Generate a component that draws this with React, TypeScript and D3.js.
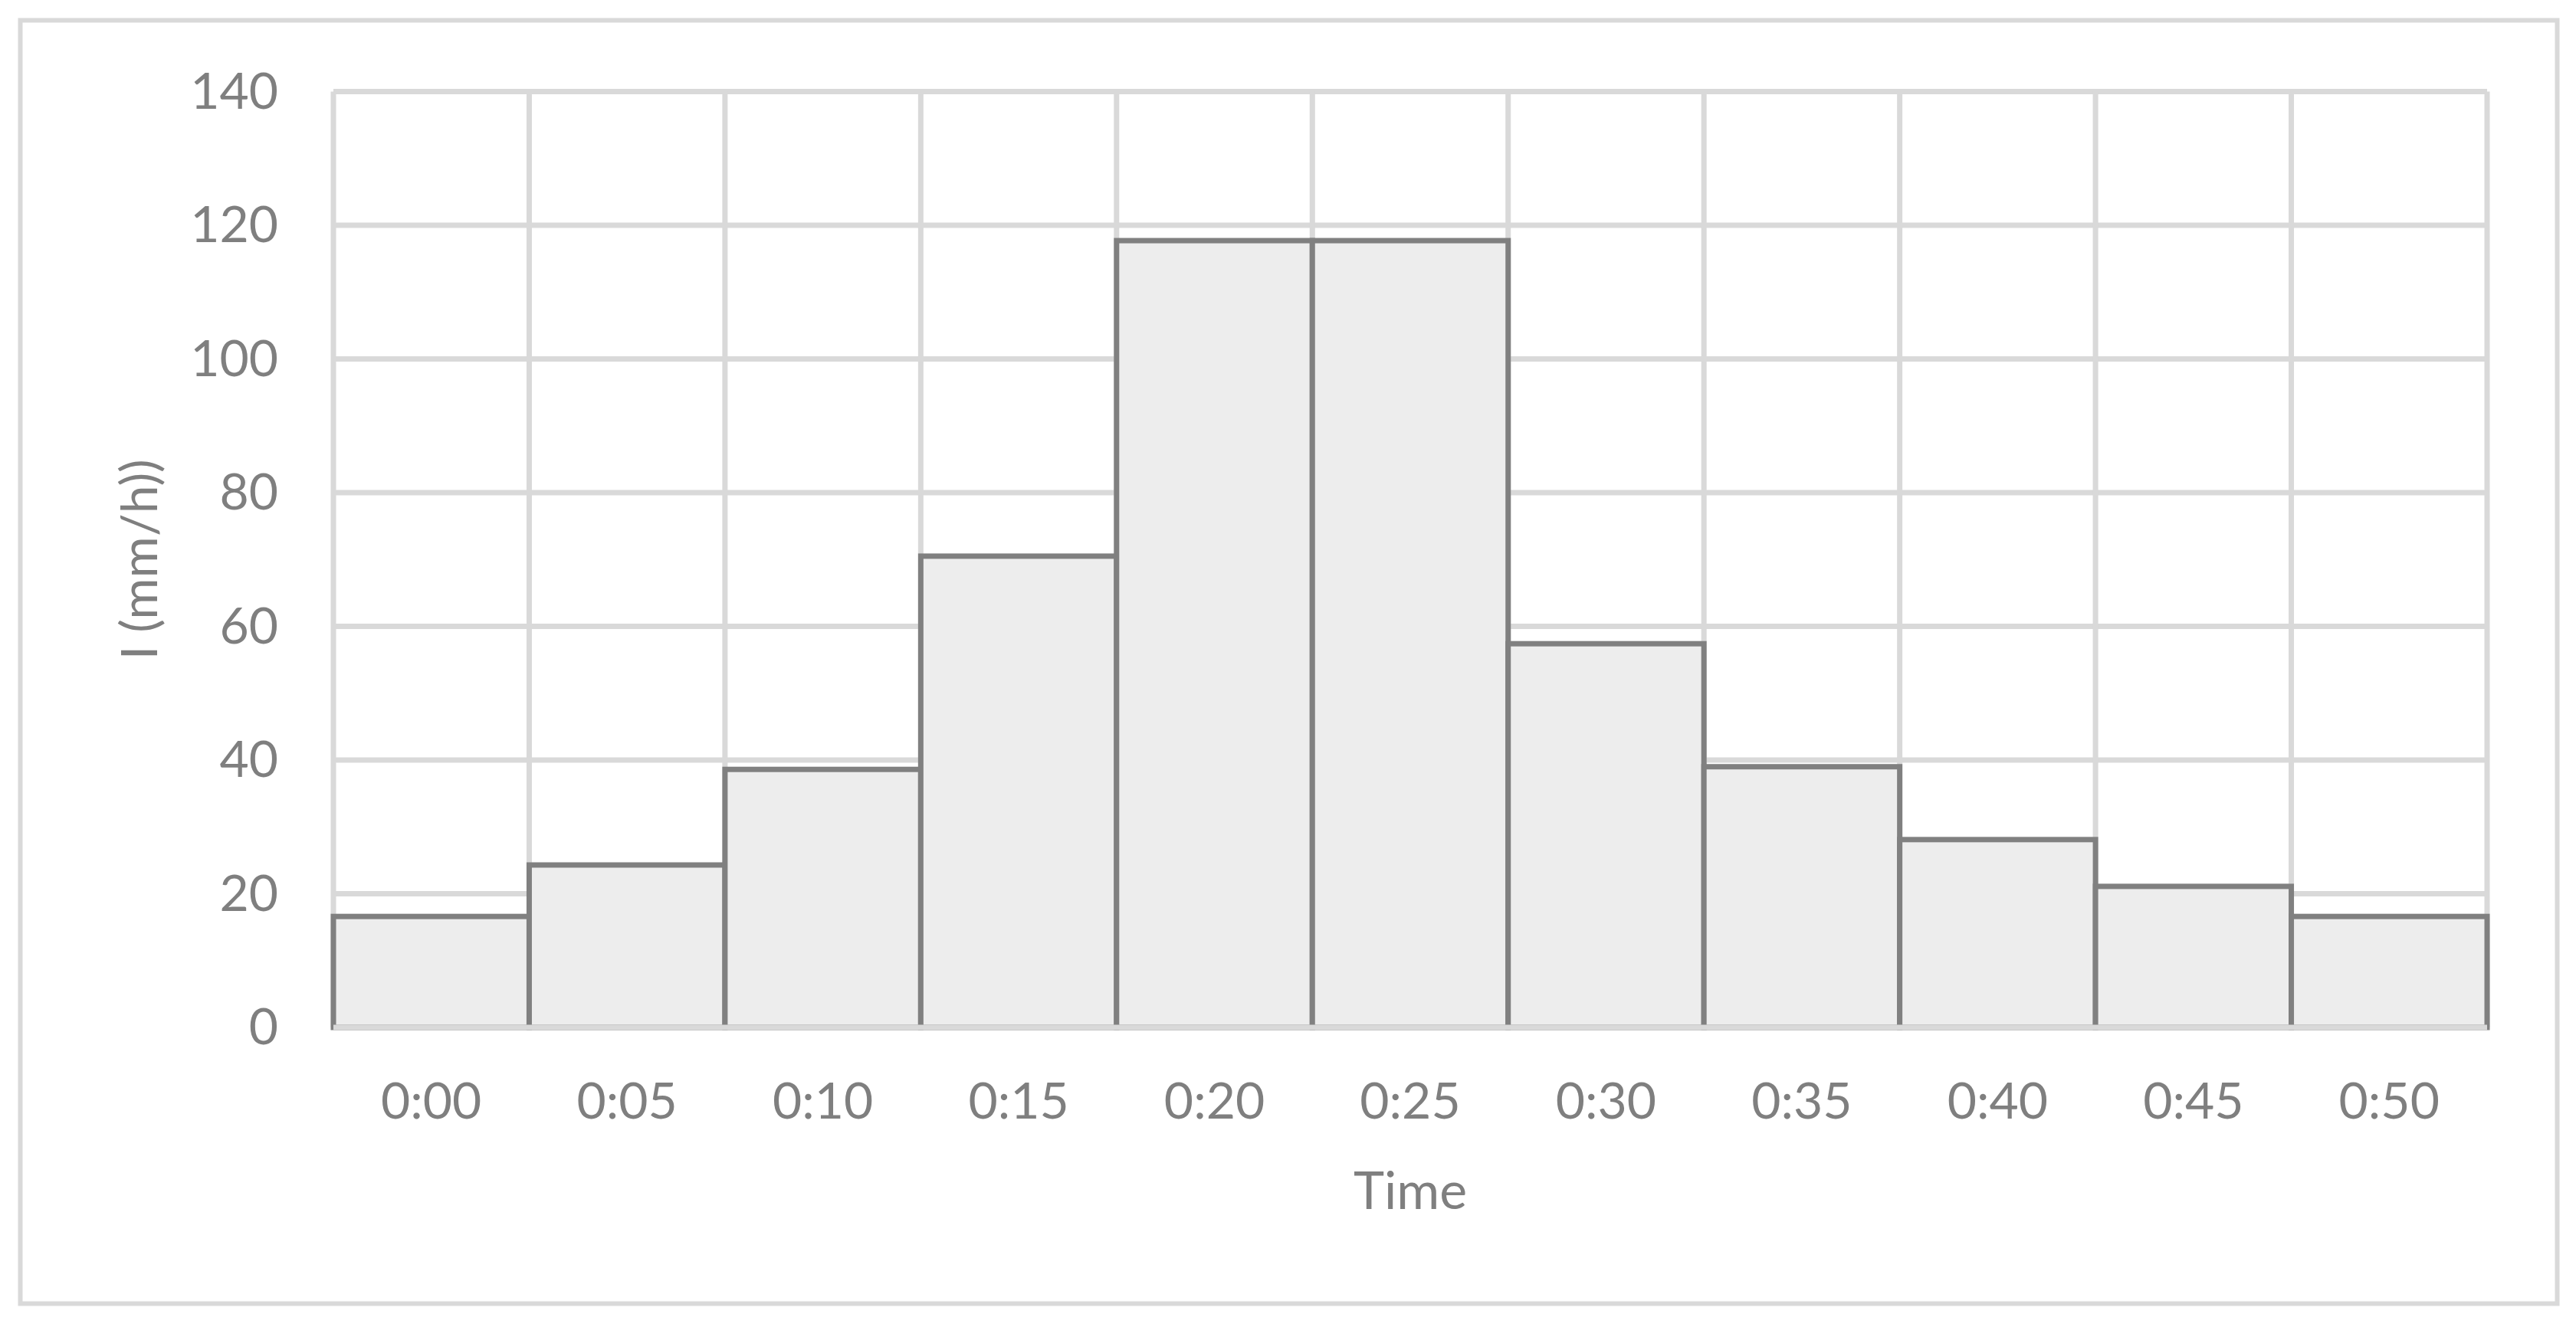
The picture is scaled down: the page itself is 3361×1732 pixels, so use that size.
import React from 'react';
import * as d3 from 'd3';

// time slots (5 min blocks) and rainfall intensity in mm/h
const slots = ['0:00', '0:05', '0:10', '0:15', '0:20', '0:25', '0:30', '0:35', '0:40', '0:45', '0:50'];
const intensity = [16.6, 24.3, 38.6, 70.5, 117.7, 117.7, 57.4, 39.0, 28.1, 21.1, 16.6];
const yTicks = [0, 20, 40, 60, 80, 100, 120, 140];

const W = 3361;
const H = 1732;
const FONT = 'Lato, "Open Sans", sans-serif';
const TXT = '#7f7f7f';
const GRID = '#d9d9d9';

const App = () => {
  const x = d3.scaleBand<string>().domain(slots).range([435, 3245]).padding(0);
  const y = d3.scaleLinear().domain([0, 140]).range([1341, 119.5]);
  const bw = x.bandwidth();
  const [x0, x1] = x.range();

  const data = slots.map((s, i) => ({ slot: s, v: intensity[i] }));
  // category boundaries for the vertical grid
  const bounds = slots.map(s => x(s)!).concat([x1]);

  return (
    <svg width={W} height={H} style={{ position: 'absolute', left: 0, top: 0, background: '#fff' }}>
      <rect x={26.5} y={26.5} width={3310} height={1675} fill="#fff" stroke={GRID} strokeWidth={6} />

      {/* gridlines */}
      {yTicks.map(t => (
        <line key={'h' + t} x1={x0} x2={x1} y1={y(t)} y2={y(t)} stroke={GRID} strokeWidth={7} />
      ))}
      {bounds.map((b, i) => (
        <line key={'v' + i} x1={b} x2={b} y1={y(140)} y2={y(0)} stroke={GRID} strokeWidth={7} />
      ))}

      {/* bars */}
      {data.map(d => (
        <rect
          key={d.slot}
          x={x(d.slot)}
          y={y(d.v)}
          width={bw}
          height={y(0) - y(d.v)}
          fill="#ededed"
          stroke="#808080"
          strokeWidth={7}
        />
      ))}

      {/* category axis line */}
      <line x1={x0} x2={x1} y1={y(0)} y2={y(0)} stroke={GRID} strokeWidth={7} />

      {/* tick labels */}
      {yTicks.map(t => (
        <text key={'yl' + t} x={363} y={y(t)} dy={22} textAnchor="end"
          fontFamily={FONT} fontSize={66} fill={TXT}>{t}</text>
      ))}
      {slots.map(s => (
        <text key={'xl' + s} x={x(s)! + bw / 2} y={1460} textAnchor="middle"
          fontFamily={FONT} fontSize={66} fill={TXT}>{s}</text>
      ))}

      {/* axis titles */}
      <text x={(x0 + x1) / 2} y={1578} textAnchor="middle" fontFamily={FONT} fontSize={68} fill={TXT}>Time</text>
      <text transform={`translate(205,${(y(0) + y(140)) / 2}) rotate(-90)`} textAnchor="middle"
        fontFamily={FONT} fontSize={66} fill={TXT}>I (mm/h))</text>
    </svg>
  );
};

export default App;
